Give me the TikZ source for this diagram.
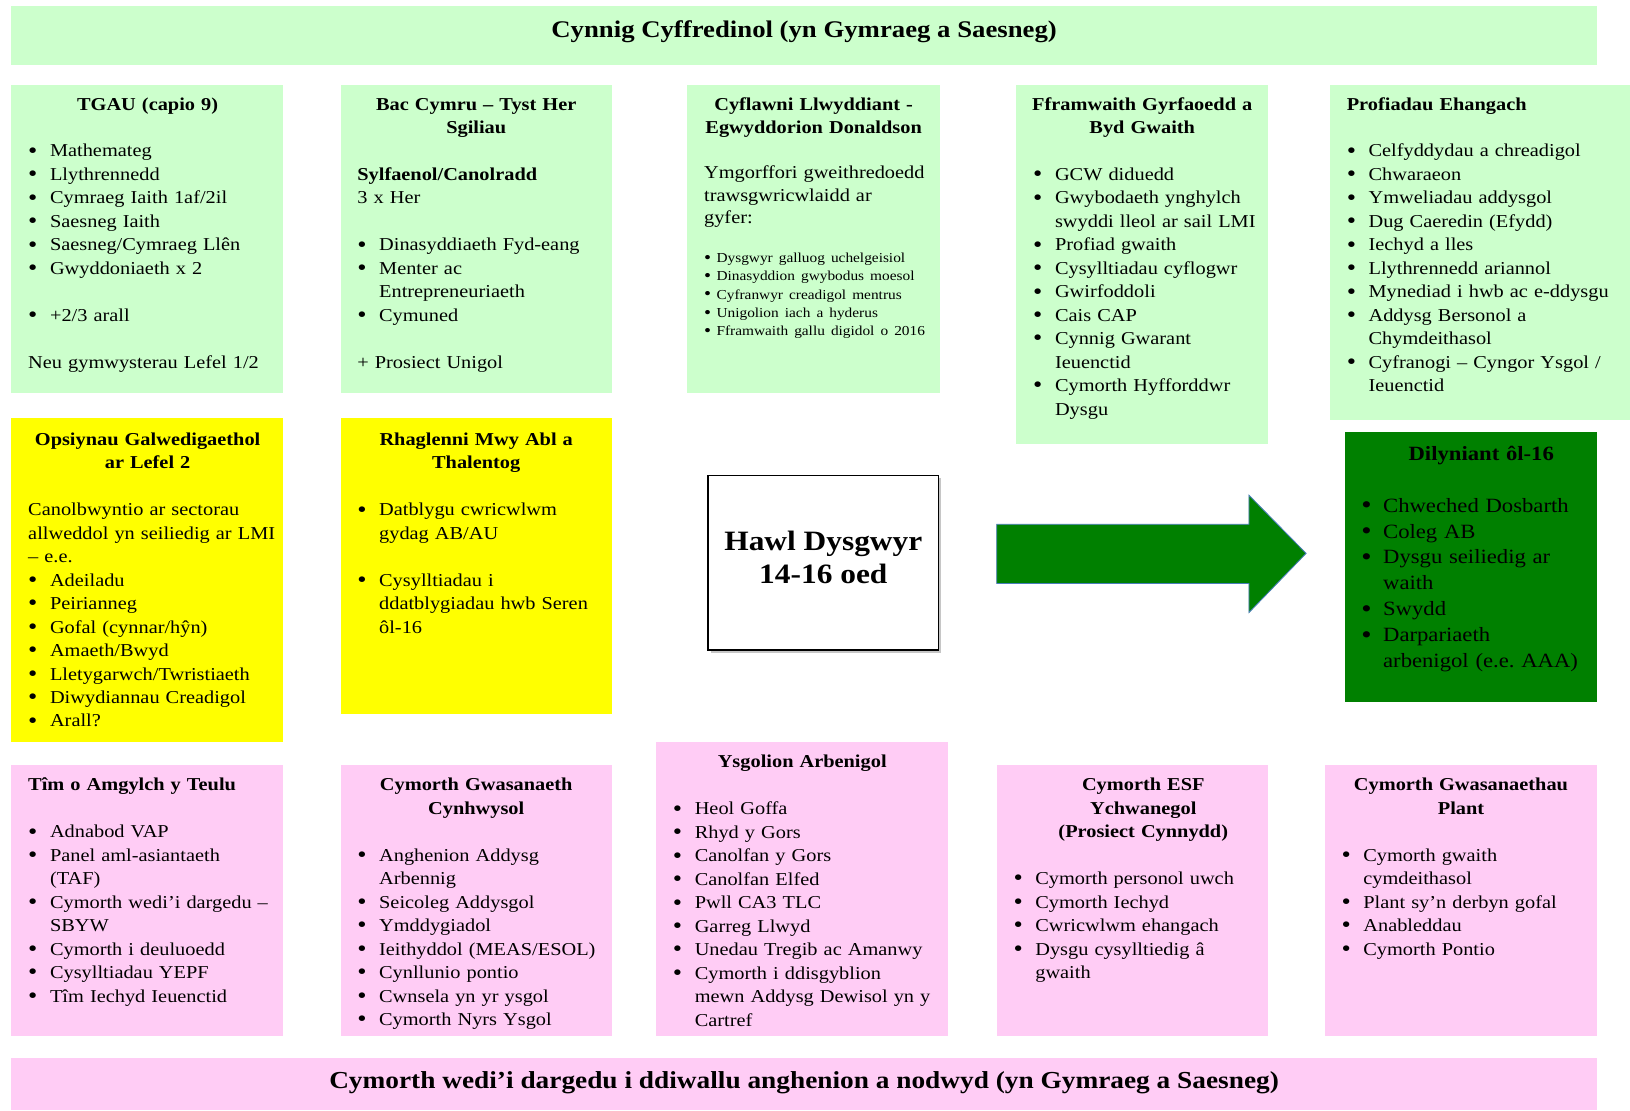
\documentclass[tikz,border=0pt]{standalone}
\usepackage{fontspec}
\usepackage{graphicx}
\setmainfont{Liberation Serif}[FakeStretch=1.12]
\definecolor{lgreen}{HTML}{CCFFCC}
\definecolor{yel}{HTML}{FFFF00}
\definecolor{pnk}{HTML}{FFCCF5}
\definecolor{dgreen}{HTML}{008000}
\definecolor{arrowedge}{HTML}{4A7EBB}
\frenchspacing
\newlength\bh \setlength\bh{21pt}
\newcommand{\bul}{\raisebox{-0.07em}{\scalebox{1.3}{\textbullet}}}
\newcommand{\bi}{\par\hangindent=\bh\hangafter=1\noindent\strut\makebox[\bh][l]{\bul}}
\newcommand{\ttl}[1]{{\centering\bfseries\strut#1\par}}
\newcommand{\pl}{\par\noindent\strut}
\newcommand{\plfirst}{\noindent\strut}
\newcommand{\gap}{\par\vspace{\baselineskip}}
\newcommand{\txtsetup}{\leftskip=16pt\rightskip=-20pt plus 1fil\parindent=0pt\parskip=0pt\relax}
\newcommand{\bodyfont}{\fontsize{17.5}{22.6}\selectfont}
\tikzset{
  bx/.style={draw=none, anchor=north west, inner sep=0pt, outer sep=0pt},
  txt/.style={anchor=north west, inner sep=0pt, text width=#1, font=\bodyfont, execute at begin node=\txtsetup},
  banner/.style={font=\fontsize{23}{28}\selectfont\bfseries, inner sep=0pt},
}
\begin{document}
\begin{tikzpicture}[x=1pt,y=-1pt]
\useasboundingbox (0,0) rectangle (1570,1070);
% banners
\node[bx, fill=lgreen, minimum width=1527, minimum height=57] (top) at (11,6) {};
\node[banner] (topT) at (774.5,31) {Cynnig Cyffredinol (yn Gymraeg a Saesneg)};
\node[bx, fill=pnk, minimum width=1527, minimum height=50] (bot) at (11,1019) {};
\node[banner, font=\fontsize{23.5}{28}\selectfont\bfseries] (botT) at (774.5,1043) {Cymorth wedi’i dargedu i ddiwallu anghenion a nodwyd (yn Gymraeg a Saesneg)};
% row 1 boxes
\node[bx, fill=lgreen, minimum width=262, minimum height=297] (tgau) at (11,82) {};
\node[txt=262pt, yshift=-8pt] (tgauT) at (tgau.north west) {\ttl{TGAU (capio 9)}\gap
\bi Mathemateg
\bi Llythrennedd
\bi Cymraeg Iaith 1af/2il
\bi Saesneg Iaith
\bi Saesneg/Cymraeg Llên
\bi Gwyddoniaeth x 2
\gap
\bi +2/3 arall
\gap
\pl Neu gymwysterau Lefel 1/2\par};
\node[bx, fill=lgreen, minimum width=261, minimum height=297] (bac) at (328,82) {};
\node[txt=261pt, yshift=-8pt] (bacT) at (bac.north west) {\ttl{Bac Cymru – Tyst Her\break Sgiliau}\gap
\pl\textbf{Sylfaenol/Canolradd}
\pl 3 x Her
\gap
\bi Dinasyddiaeth Fyd-eang
\bi Menter ac\newline Entrepreneuriaeth
\bi Cymuned
\gap
\pl + Prosiect Unigol\par};
\node[bx, fill=lgreen, minimum width=243, minimum height=297] (cyf) at (662,82) {};
\node[txt=243pt, yshift=-8pt] (cyfT) at (cyf.north west) {\ttl{Cyflawni Llwyddiant -\break Egwyddorion Donaldson}\par\vspace{21pt}
{\fontsize{17.5}{22}\selectfont\noindent Ymgorffori gweithredoedd\newline trawsgwricwlaidd ar\newline gyfer:\par}
\vspace{19pt}
{\fontsize{13.2}{17.8}\selectfont\setlength\bh{12pt}
\bi Dysgwyr galluog uchelgeisiol
\bi Dinasyddion gwybodus moesol
\bi Cyfranwyr creadigol mentrus
\bi Unigolion iach a hyderus
\bi Fframwaith gallu digidol o 2016\par}};
\node[bx, fill=lgreen, minimum width=242, minimum height=346] (ffr) at (979,82) {};
\node[txt=242pt, yshift=-8pt] (ffrT) at (ffr.north west) {\ttl{Fframwaith Gyrfaoedd a\break Byd Gwaith}\gap
\bi GCW diduedd
\bi Gwybodaeth ynghylch\newline swyddi lleol ar sail LMI
\bi Profiad gwaith
\bi Cysylltiadau cyflogwr
\bi Gwirfoddoli
\bi Cais CAP
\bi Cynnig Gwarant\newline Ieuenctid
\bi Cymorth Hyfforddwr\newline Dysgu\par};
\node[bx, fill=lgreen, minimum width=289, minimum height=323] (prof) at (1281,82) {};
\node[txt=289pt, yshift=-8pt] (profT) at (prof.north west) {\plfirst\textbf{Profiadau Ehangach}\gap
\bi Celfyddydau a chreadigol
\bi Chwaraeon
\bi Ymweliadau addysgol
\bi Dug Caeredin (Efydd)
\bi Iechyd a lles
\bi Llythrennedd ariannol
\bi Mynediad i hwb ac e-ddysgu
\bi Addysg Bersonol a\newline Chymdeithasol
\bi Cyfranogi – Cyngor Ysgol /\newline Ieuenctid\par};
% row 2
\node[bx, fill=yel, minimum width=262, minimum height=312] (ops) at (11,403) {};
\node[txt=262pt, yshift=-10pt] (opsT) at (ops.north west) {\ttl{Opsiynau Galwedigaethol\break ar Lefel 2}\gap
\pl Canolbwyntio ar sectorau\newline allweddol yn seiliedig ar LMI\newline – e.e.
\bi Adeiladu
\bi Peirianneg
\bi Gofal (cynnar/hŷn)
\bi Amaeth/Bwyd
\bi Lletygarwch/Twristiaeth
\bi Diwydiannau Creadigol
\bi Arall?\par};
\node[bx, fill=yel, minimum width=261, minimum height=285] (rhag) at (328,403) {};
\node[txt=261pt, yshift=-10pt] (rhagT) at (rhag.north west) {\ttl{Rhaglenni Mwy Abl a\break Thalentog}\gap
\bi Datblygu cwricwlwm\newline gydag AB/AU
\gap
\bi Cysylltiadau i\newline ddatblygiadau hwb Seren\newline ôl-16\par};
% centre box
\fill[gray!45] (684.5,460.5) rectangle (906.5,628.5);
\node[bx, fill=white, draw=black, line width=1.2pt, minimum width=222, minimum height=168] (hawl) at (682,458) {};
\node[font=\fontsize{27}{32}\selectfont\bfseries, align=center, inner sep=0pt, yshift=5pt] (hawlT) at (hawl.center) {Hawl Dysgwyr\\14-16 oed};
% arrow
\coordinate (a1) at (960,505);
\coordinate (a2) at (1203,505);
\coordinate (a3) at (1203,477);
\coordinate (a4) at (1258,533);
\coordinate (a5) at (1203,590);
\coordinate (a6) at (1203,562);
\coordinate (a7) at (960,562);
\fill[gray!25, yshift=-3pt] (a1) -- (a2) -- (a3) -- (a4) -- (a5) -- (a6) -- (a7) -- cycle;
\filldraw[fill=dgreen, draw=arrowedge, line width=0.8pt] (a1) -- (a2) -- (a3) -- (a4) -- (a5) -- (a6) -- (a7) -- cycle;
% dilyniant
\node[bx, fill=dgreen, minimum width=243, minimum height=260] (dily) at (1295,416) {};
\node[txt=243pt, yshift=-9.5pt, font=\fontsize{19.5}{25}\selectfont] (dilyT) at (dily.north west) {\ttl{\hspace*{20pt}Dilyniant ôl-16}\gap
\bi Chweched Dosbarth
\bi Coleg AB
\bi Dysgu seiliedig ar\newline waith
\bi Swydd
\bi Darpariaeth\newline arbenigol (e.e. AAA)\par};
% row 3
\node[bx, fill=pnk, minimum width=262, minimum height=261] (tim) at (11,737) {};
\node[txt=262pt, yshift=-8.7pt] (timT) at (tim.north west) {\plfirst\textbf{Tîm o Amgylch y Teulu}\gap
\bi Adnabod VAP
\bi Panel aml-asiantaeth\newline (TAF)
\bi Cymorth wedi’i dargedu –\newline SBYW
\bi Cymorth i deuluoedd
\bi Cysylltiadau YEPF
\bi Tîm Iechyd Ieuenctid\par};
\node[bx, fill=pnk, minimum width=261, minimum height=261] (cgc) at (328,737) {};
\node[txt=261pt, yshift=-8.7pt] (cgcT) at (cgc.north west) {\ttl{Cymorth Gwasanaeth\break Cynhwysol}\gap
\bi Anghenion Addysg\newline Arbennig
\bi Seicoleg Addysgol
\bi Ymddygiadol
\bi Ieithyddol (MEAS/ESOL)
\bi Cynllunio pontio
\bi Cwnsela yn yr ysgol
\bi Cymorth Nyrs Ysgol\par};
\node[bx, fill=pnk, minimum width=281, minimum height=283] (ysg) at (632,715) {};
\node[txt=281pt, yshift=-8.7pt] (ysgT) at (ysg.north west) {\ttl{Ysgolion Arbenigol}\gap
\bi Heol Goffa
\bi Rhyd y Gors
\bi Canolfan y Gors
\bi Canolfan Elfed
\bi Pwll CA3 TLC
\bi Garreg Llwyd
\bi Unedau Tregib ac Amanwy
\bi Cymorth i ddisgyblion\newline mewn Addysg Dewisol yn y\newline Cartref\par};
\node[bx, fill=pnk, minimum width=261, minimum height=261] (esf) at (960,737) {};
\node[txt=261pt, yshift=-8.7pt] (esfT) at (esf.north west) {\ttl{\hspace*{21pt}Cymorth ESF\break\hspace*{21pt}Ychwanegol\break\hspace*{21pt}(Prosiect Cynnydd)}\gap
\bi Cymorth personol uwch
\bi Cymorth Iechyd
\bi Cwricwlwm ehangach
\bi Dysgu cysylltiedig â\newline gwaith\par};
\node[bx, fill=pnk, minimum width=262, minimum height=261] (plant) at (1276,737) {};
\node[txt=262pt, yshift=-8.7pt] (plantT) at (plant.north west) {\ttl{Cymorth Gwasanaethau\break Plant}\gap
\bi Cymorth gwaith\newline cymdeithasol
\bi Plant sy’n derbyn gofal
\bi Anableddau
\bi Cymorth Pontio\par};
\end{tikzpicture}
\end{document}
